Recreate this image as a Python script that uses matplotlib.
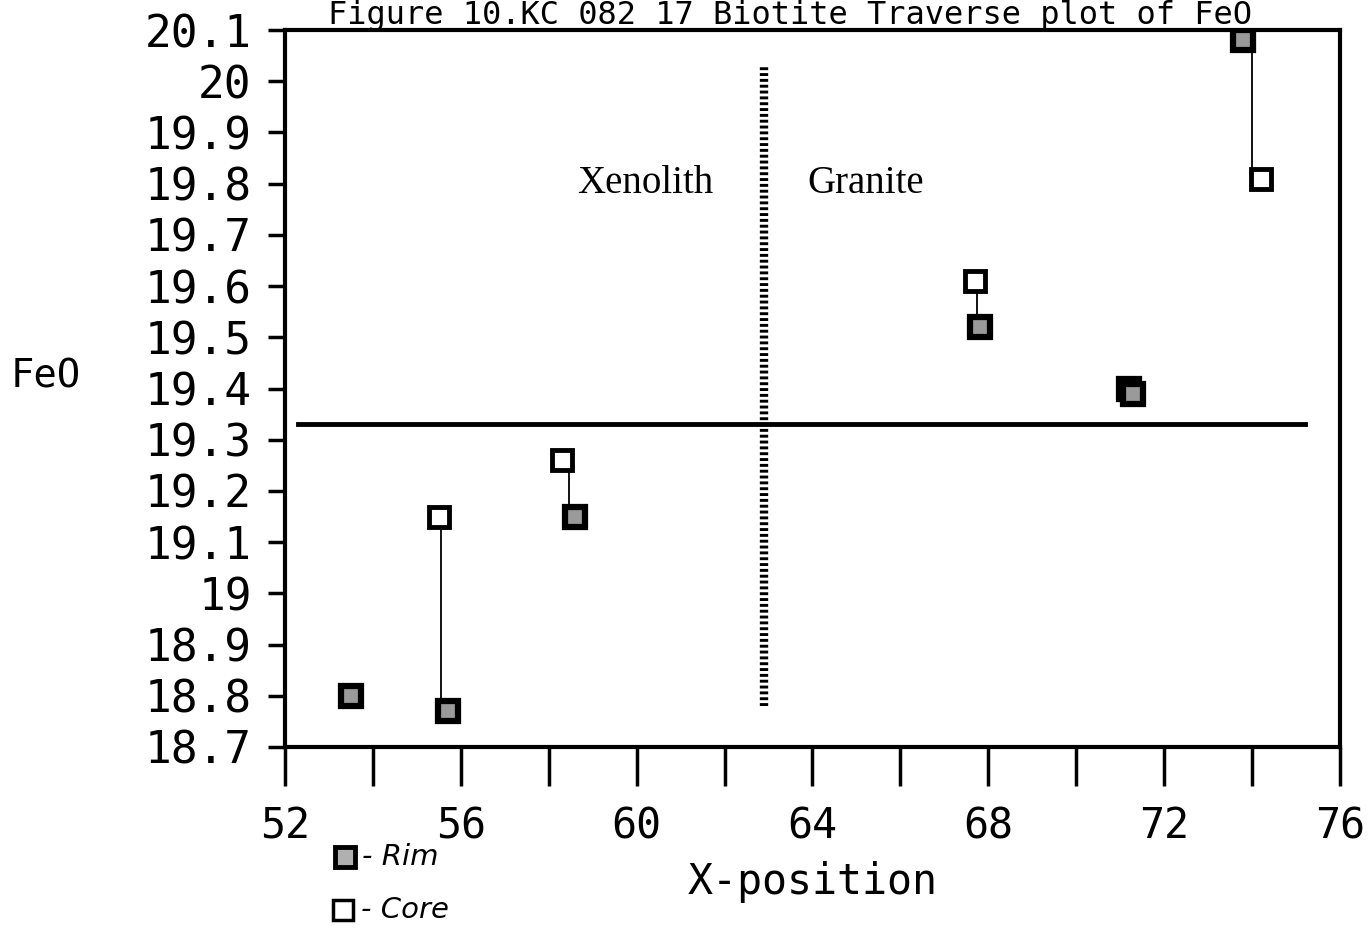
import matplotlib.pyplot as plt
import numpy as np

# traverse data
rim_x = [53.5, 55.7, 58.6, 67.8, 71.2, 71.3, 73.8]
rim_feo = [18.80, 18.77, 19.15, 19.52, 19.40, 19.39, 20.08]
core_x = [55.5, 58.3, 67.7, 74.2]
core_feo = [19.15, 19.26, 19.61, 19.81]

# rim-core pairs joined by thin lines
pair_x = [(55.55, 55.55), (58.45, 58.45), (67.75, 67.75), (74.0, 74.0)]
pair_feo = [(19.15, 18.77), (19.26, 19.15), (19.61, 19.52), (20.08, 19.81)]

mean_feo = 19.33
mean_x = (52.3, 75.2)
boundary_x = 62.9
boundary_feo = (18.78, 20.03)

x_ticks = np.arange(52, 77, 2)
x_labels = [str(v) if v % 4 == 0 else "" for v in x_ticks]
y_ticks = np.round(np.arange(18.7, 20.15, 0.1), 1)
y_labels = ["%g" % v for v in y_ticks]

mono = "DejaVu Sans Mono"

fig = plt.figure(figsize=(13.72, 9.30), dpi=100)
ax = fig.add_axes([0.2077, 0.1968, 0.769, 0.7709])

for px, py in zip(pair_x, pair_feo):
    ax.plot(px, py, color="black", lw=1.3, zorder=2)

ax.plot(mean_x, [mean_feo, mean_feo], color="black", lw=3.5, zorder=1)
ax.plot([boundary_x, boundary_x], boundary_feo, color="black", lw=6,
        linestyle=(0, (0.35, 0.35)), zorder=1)

ax.plot(rim_x, rim_feo, "s", ms=15, mfc="#9a9a9a", mec="black", mew=4.5,
        ls="none", zorder=3)
ax.plot(core_x, core_feo, "s", ms=15, mfc="white", mec="black", mew=3.5,
        ls="none", zorder=3)

ax.text(60.2, 19.80, "Xenolith", fontsize=28, family="Liberation Serif",
        ha="center", va="center")
ax.text(65.2, 19.80, "Granite", fontsize=28, family="Liberation Serif",
        ha="center", va="center")

ax.set_xlim(52, 76)
ax.set_ylim(18.7, 20.1)
ax.set_xticks(x_ticks)
ax.set_xticklabels(x_labels, fontsize=30, family=mono)
ax.set_yticks(y_ticks)
ax.set_yticklabels(y_labels, fontsize=32, family=mono)
ax.tick_params(axis="x", direction="out", length=28, width=2.5, pad=14)
ax.tick_params(axis="y", direction="out", length=12, width=2.5, pad=12)
for s in ax.spines.values():
    s.set_linewidth(3)

ax.set_xlabel("X-position", fontsize=30, family=mono, labelpad=10)
fig.text(0.033, 0.595, "FeO", fontsize=28, family=mono, ha="center", va="center")

fig.text(0.576, 1.0, "Figure 10.KC 082 17 Biotite Traverse plot of FeO",
         fontsize=23, family=mono, ha="center", va="top")

# hand-drawn legend below the axis
fig.add_artist(plt.Line2D([0.2515], [0.079], marker="s", ms=15, mfc="#b0b0b0",
                          mec="black", mew=3.5, transform=fig.transFigure))
fig.add_artist(plt.Line2D([0.2500], [0.021], marker="s", ms=15, mfc="white",
                          mec="black", mew=2.5, transform=fig.transFigure))
fig.text(0.264, 0.079, "- Rim", fontsize=21, style="italic",
         ha="left", va="center")
fig.text(0.263, 0.021, "- Core", fontsize=21, style="italic",
         ha="left", va="center")

fig.savefig("out.png", dpi=100)
